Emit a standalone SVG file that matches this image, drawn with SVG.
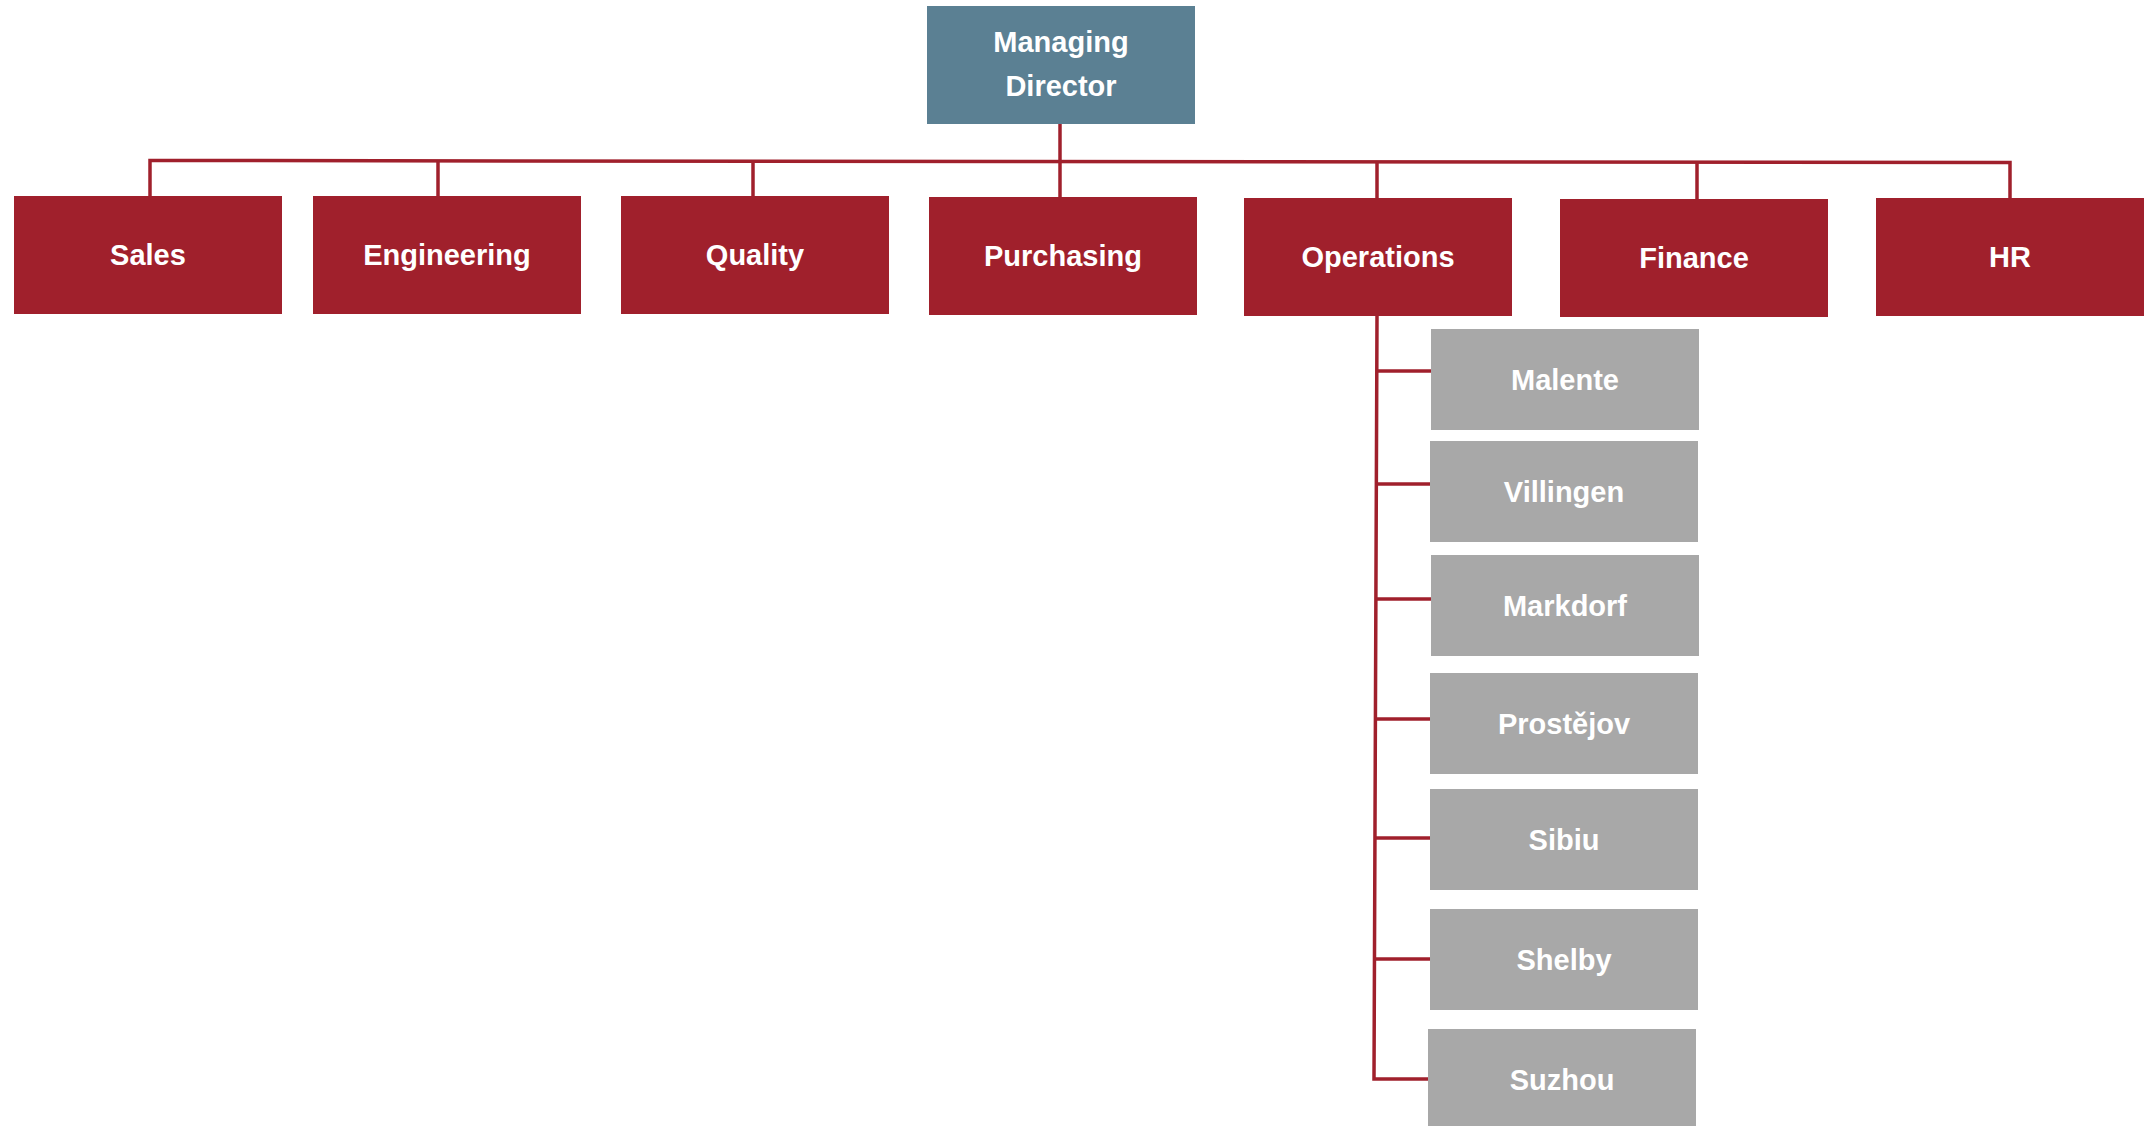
<svg xmlns="http://www.w3.org/2000/svg" width="2148" height="1126" viewBox="0 0 2148 1126">
<style>
.red{fill:#A0202C}
.md{fill:#5B8093}
.gray{fill:#A8A8A8}
text{font-family:"Liberation Sans",Arial,sans-serif;font-weight:bold;font-size:29px;fill:#ffffff;text-anchor:middle}
.conn{fill:none;stroke:#A0202C;stroke-width:3.5}
</style>
<rect width="2148" height="1126" fill="#ffffff"/>
<g id="connectors">
<path class="conn" d="M1060,124 V197"/>
<path class="conn" d="M150,196 V160.5 L2010,162.5 V198"/>
<path class="conn" d="M438,196 V160.8"/>
<path class="conn" d="M753,196 V161"/>
<path class="conn" d="M1377,198 V161.7"/>
<path class="conn" d="M1697,199 V162"/>
<path class="conn" d="M1377,316 L1374,1079 H1428"/>
<path class="conn" d="M1377,371 H1431"/>
<path class="conn" d="M1377,484 H1430"/>
<path class="conn" d="M1376,599 H1431"/>
<path class="conn" d="M1376,719 H1430"/>
<path class="conn" d="M1375,838 H1430"/>
<path class="conn" d="M1375,959 H1430"/>
</g>
<g id="managing-director"><rect class="md" x="927" y="6" width="268" height="118"/><text x="1061" y="52">Managing</text><text x="1061" y="96">Director</text></g>
<g id="sales"><rect class="red" x="14" y="196" width="268" height="118"/><text x="148" y="265">Sales</text></g>
<g id="engineering"><rect class="red" x="313" y="196" width="268" height="118"/><text x="447" y="265">Engineering</text></g>
<g id="quality"><rect class="red" x="621" y="196" width="268" height="118"/><text x="755" y="265">Quality</text></g>
<g id="purchasing"><rect class="red" x="929" y="197" width="268" height="118"/><text x="1063" y="266">Purchasing</text></g>
<g id="operations"><rect class="red" x="1244" y="198" width="268" height="118"/><text x="1378" y="267">Operations</text></g>
<g id="finance"><rect class="red" x="1560" y="199" width="268" height="118"/><text x="1694" y="268">Finance</text></g>
<g id="hr"><rect class="red" x="1876" y="198" width="268" height="118"/><text x="2010" y="267">HR</text></g>
<g id="malente"><rect class="gray" x="1431" y="329" width="268" height="101"/><text x="1565" y="390">Malente</text></g>
<g id="villingen"><rect class="gray" x="1430" y="441" width="268" height="101"/><text x="1564" y="502">Villingen</text></g>
<g id="markdorf"><rect class="gray" x="1431" y="555" width="268" height="101"/><text x="1565" y="616">Markdorf</text></g>
<g id="prostejov"><rect class="gray" x="1430" y="673" width="268" height="101"/><text x="1564" y="734">Prostějov</text></g>
<g id="sibiu"><rect class="gray" x="1430" y="789" width="268" height="101"/><text x="1564" y="850">Sibiu</text></g>
<g id="shelby"><rect class="gray" x="1430" y="909" width="268" height="101"/><text x="1564" y="970">Shelby</text></g>
<g id="suzhou"><rect class="gray" x="1428" y="1029" width="268" height="101"/><text x="1562" y="1090">Suzhou</text></g>
</svg>
